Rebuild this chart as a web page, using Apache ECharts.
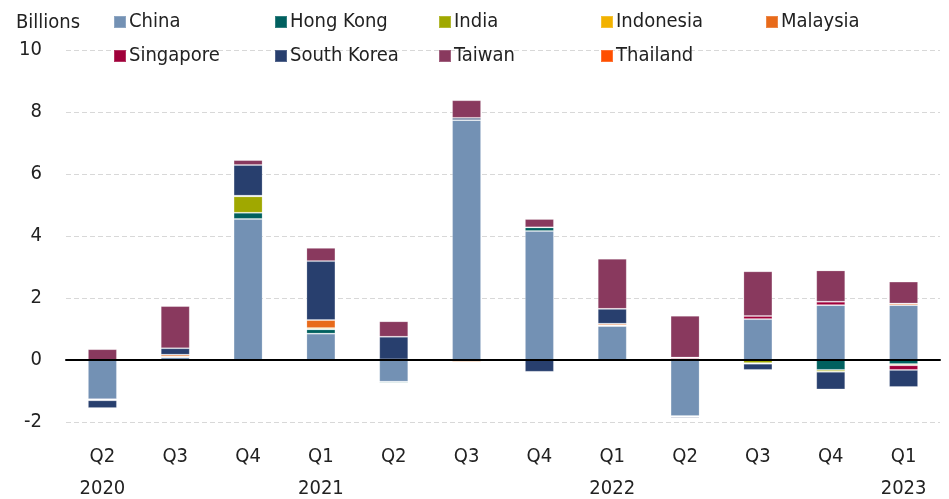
<!DOCTYPE html>
<html>
<head>
<meta charset="utf-8">
<script src="https://cdn.jsdelivr.net/npm/echarts@6/dist/echarts.min.js"></script>
<style>
  html, body { margin: 0; padding: 0; background: #fff; }
  #chart { width: 949px; height: 499px; }
</style>
</head>
<body>
<div id="chart"></div>
<script>
// quarters on the x axis
const quarters = ['Q2\n2020', 'Q3', 'Q4', 'Q1\n2021', 'Q2', 'Q3', 'Q4', 'Q1\n2022', 'Q2', 'Q3', 'Q4', 'Q1\n2023']

// values in billions, one per quarter
const china      = [-1.27, 0.09, 4.55, 0.85, -0.70, 7.74, 4.16, 1.10, -1.81, 1.32, 1.77, 1.77]
const hongKong   = [0, 0, 0.20, 0.14, -0.04, 0, 0.12, 0, 0.04, 0, -0.32, -0.13]
const india      = [0, 0, 0.53, 0, 0, 0, 0, 0, 0, -0.10, -0.06, -0.04]
const indonesia  = [0, 0.02, 0.02, 0.04, 0, 0, 0, 0.02, 0, -0.02, 0, 0]
const malaysia   = [-0.03, 0.06, 0, 0.26, 0.02, -0.06, 0, 0.05, -0.03, 0, 0, 0.05]
const singapore  = [0, 0, 0, 0, 0, 0, 0, 0, 0.04, 0.10, 0.11, -0.15]
const southKorea = [-0.25, 0.21, 0.99, 1.90, 0.73, 0.07, -0.38, 0.48, -0.04, -0.20, -0.57, -0.55]
const taiwan     = [0.35, 1.36, 0.16, 0.43, 0.50, 0.57, 0.27, 1.62, 1.35, 1.44, 1.01, 0.71]
const thailand   = [0.01, 0, 0.01, 0, 0, -0.01, 0, 0, 0, 0, 0.01, 0.01]

const yTicks = [-2, 0, 2, 4, 6, 8, 10]

const seriesList = [
  { name: 'China', data: china, color: '#7391b4' },
  { name: 'Hong Kong', data: hongKong, color: '#00605f' },
  { name: 'India', data: india, color: '#a0a800' },
  { name: 'Indonesia', data: indonesia, color: '#f2b200' },
  { name: 'Malaysia', data: malaysia, color: '#e86a1a' },
  { name: 'Singapore', data: singapore, color: '#a0003a' },
  { name: 'South Korea', data: southKorea, color: '#283f6e' },
  { name: 'Taiwan', data: taiwan, color: '#89395e' },
  { name: 'Thailand', data: thailand, color: '#ff4f00' }
]

const font = "'Liberation Sans Narrow', 'DejaVu Sans Condensed', sans-serif"

// legend laid out in two rows of five
const legendPos = [
  [113, 12], [274, 12], [438, 12], [600, 12], [765, 12],
  [113, 46], [274, 46], [438, 46], [600, 46]
]

const chart = echarts.init(document.getElementById('chart'))

const option = {
  backgroundColor: '#fff',
  animation: false,
  textStyle: { fontFamily: font },
  title: {
    text: 'Billions',
    left: 11,
    top: 8,
    textStyle: { fontFamily: font, fontSize: 20, fontWeight: 'normal', color: '#222' }
  },
  legend: seriesList.map((s, i) => ({
    data: [s.name],
    left: legendPos[i][0],
    top: legendPos[i][1],
    icon: 'rect',
    itemWidth: 12,
    itemHeight: 12,
    itemGap: 4,
    padding: 0,
    selectedMode: false,
    textStyle: { fontFamily: font, fontSize: 20, color: '#222', padding: [0, 0, 0, -2] }
  })),
  grid: { left: 66, right: 9, top: 50, bottom: 77, containLabel: false, outerBoundsMode: 'none' },
  xAxis: {
    type: 'category',
    data: quarters,
    axisLine: { onZero: true, lineStyle: { color: '#000', width: 2 } },
    axisTick: { show: false },
    axisLabel: {
      fontFamily: font, fontSize: 20, color: '#222',
      lineHeight: 32, margin: 19
    },
    z: 10
  },
  yAxis: {
    type: 'value',
    min: yTicks[0],
    max: yTicks[yTicks.length - 1],
    interval: 2,
    axisLine: { show: false },
    axisTick: { show: false },
    axisLabel: { fontFamily: font, fontSize: 20, color: '#222', margin: 24 },
    splitLine: { lineStyle: { color: '#d8d8d8', type: [5, 3], width: 1 } }
  },
  series: seriesList.map(s => ({
    name: s.name,
    type: 'bar',
    stack: 'total',
    barWidth: 29,
    data: s.data,
    itemStyle: {
      color: s.color,
      borderColor: 'rgba(255,255,255,0.2)',
      borderWidth: 1
    }
  }))
}

chart.setOption(option)
</script>
</body>
</html>
